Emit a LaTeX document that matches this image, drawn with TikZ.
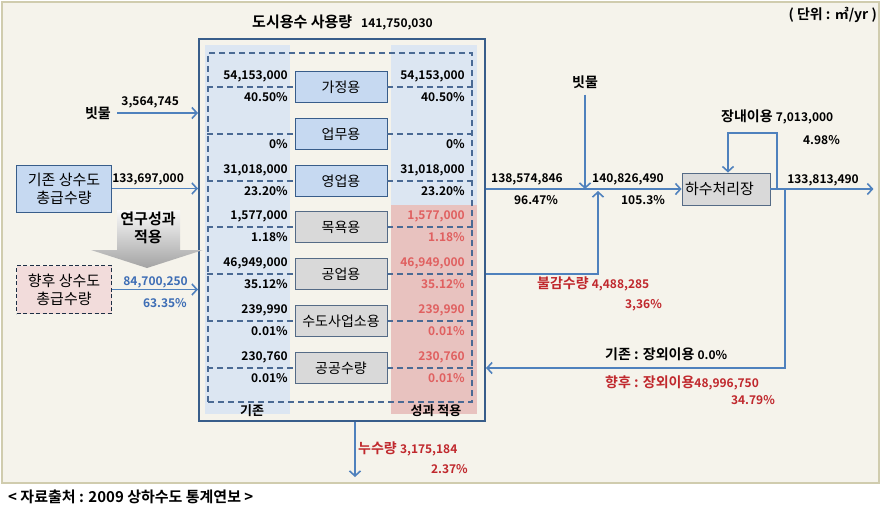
\documentclass[tikz,border=0pt]{standalone}
\usepackage{fontspec}
\setmainfont{Noto Sans CJK KR}[BoldFont={Noto Sans CJK KR Bold}]
\usetikzlibrary{arrows.meta,calc,positioning}
\definecolor{bgbeige}{HTML}{F5F3EB}
\definecolor{framekhaki}{HTML}{D0CCAE}
\definecolor{flowblue}{HTML}{4F81BD}
\definecolor{mainblue}{HTML}{385D8A}
\definecolor{dashblue}{HTML}{4A6A94}
\definecolor{colblue}{HTML}{DCE6F2}
\definecolor{colpink}{HTML}{E8C2BF}
\definecolor{boxblue}{HTML}{C6D9F1}
\definecolor{boxgray}{HTML}{D9D9D9}
\definecolor{boxpink}{HTML}{F2DCDB}
\definecolor{txtred}{HTML}{C0282D}
\definecolor{txtlred}{HTML}{E06060}
\definecolor{txtblue}{HTML}{3D6DB5}
\newcommand\numsz{\bfseries\fontsize{12}{14}\selectfont}
\newcommand\lblsz{\bfseries\fontsize{14}{16}\selectfont}
\tikzset{
  flow/.style={-{Straight Barb[length=5pt,width=11pt,line width=1.6pt]}, line width=1.8pt, flowblue},
  dsh/.style={dash pattern=on 6pt off 4pt, line width=1.4pt, dashblue},
  ubox/.style={draw=mainblue, fill=boxblue, line width=0.9pt, minimum width=92, minimum height=31, font=\fontsize{14}{16}\selectfont},
  gbox/.style={draw=mainblue!60!gray, fill=boxgray, line width=0.9pt, minimum width=92, minimum height=31, font=\fontsize{14}{16}\selectfont},
  num/.style={font=\numsz, inner sep=0pt, text=black},
  lbl/.style={font=\lblsz, inner sep=0pt},
}
\begin{document}
\begin{tikzpicture}[x=1pt,y=-1pt]
  \useasboundingbox (0,0) rectangle (886,514);
  % --- background ---
  \fill[bgbeige] (2,2) rectangle (879,483);
  \draw[framekhaki, line width=2.5pt] (2,2) rectangle (879,483);
  \node[font=\bfseries\fontsize{14}{16}\selectfont, inner sep=0pt, anchor=east] (unit) at (877,15) {( 단위 : ㎥/yr )};
  % --- city water use ---
  \fill[colblue] (205,45) rectangle (290,414);
  \fill[colblue] (391,45) rectangle (477,205);
  \fill[colpink] (391,205) rectangle (477,414);
  \node[draw=mainblue, line width=2pt, minimum width=286, minimum height=382] (city) at (342,230) {};
  \node[draw=dashblue, dash pattern=on 6pt off 4pt, line width=1.4pt, minimum width=264, minimum height=349] (grp) at (340,227.5) {};
  \node[font=\bfseries\fontsize{15}{17}\selectfont, inner sep=0pt, anchor=west] (title) at (252,22) {도시용수 사용량\hspace{9pt}{\numsz 141,750,030}};
  \foreach \yy/\nm/\val/\pct/\bx/\rc [count=\i] in {
      87/가정용/{54,153,000}/40.50\%/ubox/black,
      134/업무용//0\%/ubox/black,
      181/영업용/{31,018,000}/23.20\%/ubox/black,
      227/목욕용/{1,577,000}/1.18\%/gbox/txtlred,
      274/공업용/{46,949,000}/35.12\%/gbox/txtlred,
      321/수도사업소용/{239,990}/0.01\%/gbox/txtlred,
      368/공공수량/{230,760}/0.01\%/gbox/txtlred}{
    \node[\bx] (use\i) at (341,\yy) {\nm};
    \draw[dsh] (grp.west |- use\i) -- (use\i.west);
    \draw[dsh] (use\i.east) -- (grp.east |- use\i);
    \node[num, anchor=east] at (288,\yy-11) {\val};
    \node[num, anchor=east] at (288,\yy+10) {\pct};
    \node[num, anchor=east, text=\rc] at (465,\yy-11) {\val};
    \node[num, anchor=east, text=\rc] at (465,\yy+10) {\pct};
  }
  \node[font=\fontsize{13}{15}\selectfont\bfseries, inner sep=0pt] (oldcol) at (252,411) {기존};
  \node[font=\fontsize{13}{15}\selectfont\bfseries, inner sep=0pt] (newcol) at (436,411) {성과 적용};
  % --- supply side ---
  \node[lbl, anchor=east] (rainL) at (111,113) {빗물};
  \draw[flow, shorten <=6pt] (rainL.east) -- (city.west |- rainL.east)
    node[num, pos=0.45, above=4pt] {3,564,745};
  \node[draw=mainblue, fill=boxblue, line width=0.9pt, minimum width=95, minimum height=47,
    align=center, font=\fontsize{15}{18}\selectfont] (supOld) at (64,188.5) {기존 상수도\\총급수량};
  \draw[flow] (supOld.east) -- (city.west |- supOld.east)
    node[num, pos=0.42, above=3pt] {133,697,000};
  \shade[top color=gray!5, bottom color=gray!72] (117,210) -- (180,210) -- (180,250) -- (203,250)
    -- (147,268) -- (91,250) -- (117,250) -- cycle;
  \node[font=\fontsize{15}{18}\selectfont\bfseries, align=center] (study) at (148,228) {연구성과\\적용};
  \node[draw=mainblue!50!black, fill=boxpink, dash pattern=on 4pt off 2.5pt, line width=1.3pt, minimum width=95, minimum height=48,
    align=center, font=\fontsize{15}{18}\selectfont] (supNew) at (64,289.5) {향후 상수도\\총급수량};
  \draw[flow] (supNew.east) -- (city.west |- supNew.east);
  \node[num, text=txtblue, anchor=east] (newval) at (188,282) {84,700,250};
  \node[num, text=txtblue, anchor=east] (newpct) at (187,303) {63.35\%};
  % --- sewage side ---
  \node[gbox, minimum width=88, minimum height=32, text width=82, inner xsep=3pt, align=left,
    font=\fontsize{15}{18}\selectfont] (wwtp) at (726,189) {하수처리장};
  \draw[flow] (city.east |- wwtp) -- (wwtp.west);
  \node[lbl] (rainR) at (585,82) {빗물};
  \draw[flow, shorten <=6pt] (rainR.south) -- (rainR.south |- wwtp);
  \coordinate (jn) at (598,191);
  \draw[flow] (city.east |- use5) -| (jn);
  \node[num] at (527,179) {138,574,846};
  \node[num] at (536,200) {96.47\%};
  \node[num] at (628,179) {140,826,490};
  \node[num] at (643,200) {105.3\%};
  \coordinate (lpA) at (777,189);
  \draw[flow] (lpA) -- ++(0,-56) -| ([xshift=2pt]wwtp.north);
  \draw[flow] (wwtp.east) -- ++(103,0);
  \node[lbl, anchor=west] (reuse) at (721,117) {장내이용 {\numsz 7,013,000}};
  \node[num, anchor=east] at (840,140) {4.98\%};
  \node[num, anchor=east] at (859,180) {133,813,490};
  \coordinate (rtA) at (785,189);
  \draw[flow] (rtA) |- (city.east |- use7);
  \node[lbl, anchor=west, text=txtred] (loss) at (537,284) {불감수량 {\numsz 4,488,285}};
  \node[num, anchor=east, text=txtred] at (662,305) {3,36\%};
  \node[lbl, anchor=west] (extOld) at (605,354) {기존 : 장외이용 {\numsz 0.0\%}};
  \node[lbl, anchor=west, text=txtred] (extNew) at (605,383) {향후 : 장외이용{\numsz 48,996,750}};
  \node[num, anchor=east, text=txtred] at (775,400) {34.79\%};
  % --- leakage ---
  \draw[flow] ([xshift=13pt]city.south) -- ++(0,55);
  \node[lbl, anchor=west, text=txtred] (leak) at (358,449) {누수량 {\numsz 3,175,184}};
  \node[num, anchor=east, text=txtred] at (468,469) {2.37\%};
  % --- source ---
  \node[font=\fontsize{15}{17}\selectfont\bfseries, anchor=west, inner sep=0pt] (src) at (8,497) {< 자료출처 : 2009 상하수도 통계연보 >};
\end{tikzpicture}
\end{document}
